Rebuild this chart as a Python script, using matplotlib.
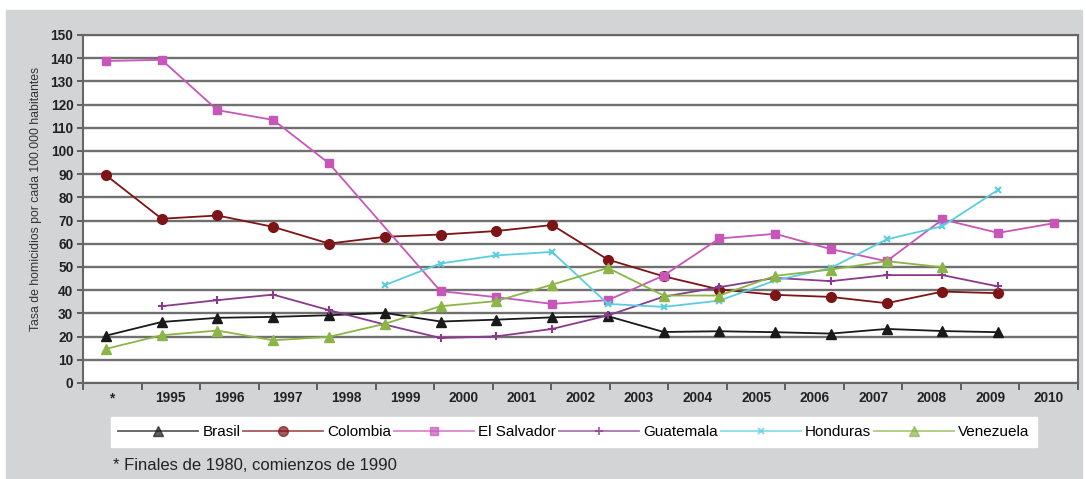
import matplotlib
matplotlib.use('Agg')
from matplotlib import pyplot as plt
from matplotlib.patches import Rectangle
import numpy as np

plt.rcParams['font.family'] = ['Liberation Sans', 'DejaVu Sans']

## Data (18 plotted positions, 17 axis labels as in the original)
labels = ['*', '1995', '1996', '1997', '1998', '1999', '2000', '2001', '2002',
          '2003', '2004', '2005', '2006', '2007', '2008', '2009', '2010']
brasil = [20.4, 26.3, 28.1, 28.5, 29.2, 30.2, 26.5, 27.3, 28.3, 28.8, 22.0, 22.3,
          21.9, 21.3, 23.3, 22.4, 21.9, None]
colombia = [89.6, 70.8, 72.2, 67.3, 60.1, 63.0, 64.0, 65.5, 68.1, 53.2, 46.0, 40.3,
            38.0, 37.1, 34.4, 39.4, 38.7, None]
el_salvador = [138.8, 139.3, 117.6, 113.4, 94.7, None, 39.6, 37.0, 34.1, 35.7, 46.3,
               62.3, 64.3, 57.7, 52.5, 70.5, 64.7, 68.9]
guatemala = [None, 33.1, 35.7, 38.1, 31.4, 25.2, 19.4, 20.1, 23.3, 29.1, 37.2, 41.3,
             45.3, 43.9, 46.5, 46.5, 41.6, None]
honduras = [None, None, None, None, None, 42.2, 51.5, 55.0, 56.5, 34.1, 32.8, 35.5,
            44.2, 49.6, 61.9, 67.6, 83.3, None]
venezuela = [14.7, 20.6, 22.6, 18.4, 19.9, 25.5, 33.1, 35.3, 42.4, 49.6, 37.7, 37.7,
             46.2, 48.9, 52.5, 49.9, None, None]

series = [
    ('Brasil', brasil, '#1a1a1a', '^', 7),
    ('Colombia', colombia, '#7d1416', 'o', 7),
    ('El Salvador', el_salvador, '#c856b8', 's', 6),
    ('Guatemala', guatemala, '#8a3a8c', '+', 6),
    ('Honduras', honduras, '#5ccde0', 'x', 5),
    ('Venezuela', venezuela, '#8cb548', '^', 7),
]

fig = plt.figure(figsize=(10.86, 4.79), dpi=100, facecolor='white')
fig.patches.append(Rectangle((6 / 1086, 0), 1076 / 1086, 469 / 479,
                             transform=fig.transFigure, color='#d3d4d6', zorder=-10))
ax = fig.add_axes([83 / 1086, 1 - 383 / 479, 995 / 1086, 348 / 479])
ax.set_facecolor('white')

for name, vals, col, mk, ms in series:
    xs = [i for i, v in enumerate(vals) if v is not None]
    ys = [v for v in vals if v is not None]
    mew = 1.5 if mk in ('+', 'x') else 1
    ax.plot(xs, ys, color=col, lw=1.3, marker=mk, ms=ms, mew=mew, label=name,
            zorder=3)

x0, x1 = -0.41, 17.43
ax.set_xlim(x0, x1)
ax.set_ylim(0, 150)
ax.set_yticks(np.arange(0, 151, 10))
ax.grid(axis='y', color='#707070', lw=1.7, zorder=1)

edges = np.linspace(x0, x1, len(labels) + 1)
centers = (edges[:-1] + edges[1:]) / 2
ax.set_xticks(centers)
ax.set_xticklabels(labels)
ax.set_xticks(edges, minor=True)
ax.tick_params(axis='x', which='major', length=0, pad=6)
ax.tick_params(axis='x', which='minor', length=5, width=1.3, color='#555555')
ax.tick_params(axis='y', length=4, width=1.3, color='#555555', pad=3)
for lab in ax.get_xticklabels() + ax.get_yticklabels():
    lab.set_fontsize(9.8)
    lab.set_fontweight('bold')
    lab.set_color('#222222')
for s in ax.spines.values():
    s.set_color('#666666')
    s.set_linewidth(1.5)

ax.set_ylabel('Tasa de homicidios por cada 100.000 habitantes', fontsize=8.8,
              color='#333333')
ax.yaxis.set_label_coords(-0.041, 0.53)

leg = fig.legend(loc='center', bbox_to_anchor=(574 / 1086, 1 - 432 / 479), ncol=6,
                 frameon=True, fancybox=False, fontsize=11, handlelength=5.2,
                 columnspacing=0.2, handletextpad=0.3, borderpad=0.5, framealpha=1)
leg.get_frame().set_edgecolor('white')
leg.get_frame().set_facecolor('white')
for h in leg.legend_handles:
    h.set_alpha(0.7)

fig.text(113 / 1086, 1 - 465 / 479, '* Finales de 1980, comienzos de 1990',
         fontsize=12, color='#222222', va='center')

fig.savefig('out.png', dpi=100, facecolor=fig.get_facecolor())
